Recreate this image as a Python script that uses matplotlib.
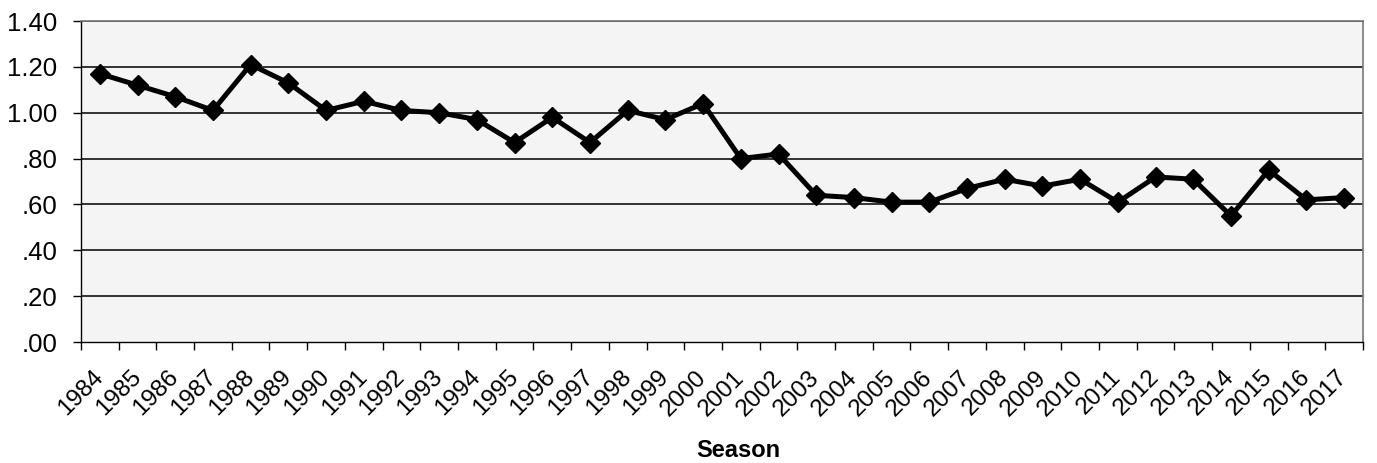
import matplotlib.pyplot as plt
from matplotlib.ticker import FixedLocator, FuncFormatter

plt.rcParams['font.family'] = ['Liberation Sans', 'DejaVu Sans']

seasons = [str(y) for y in range(1984, 2018)]
values = [1.17, 1.12, 1.07, 1.01, 1.21, 1.13, 1.01, 1.05, 1.01, 1.00,
          0.97, 0.87, 0.98, 0.87, 1.01, 0.97, 1.04, 0.80, 0.82, 0.64,
          0.63, 0.61, 0.61, 0.67, 0.71, 0.68, 0.71, 0.61, 0.72, 0.71,
          0.55, 0.75, 0.62, 0.63]
yticks = [0.0, 0.2, 0.4, 0.6, 0.8, 1.0, 1.2, 1.4]

fig = plt.figure(figsize=(13.77, 4.63), dpi=100)
ax = fig.add_axes([0.0588, 0.2613, 0.9310, 0.6933])
ax.set_facecolor('#f4f4f4')

x = list(range(len(seasons)))
ax.plot(x, values, color='black', linewidth=3.6, marker='D', markersize=10.5,
        zorder=3)

ax.set_xlim(-0.5, len(seasons) - 0.5)
ax.set_ylim(0, 1.4)

# y axis
ax.set_yticks(yticks)
ax.yaxis.set_major_formatter(FuncFormatter(
    lambda v, p: ('%.2f' % v) if v >= 1 else ('%.2f' % v)[1:]))
ax.tick_params(axis='y', labelsize=18.5, length=6, width=1, direction='out',
               pad=11)
for v in yticks[1:]:
    ax.axhline(v, color='#111111', linewidth=1.2, zorder=1)

# x axis: ticks between categories, labels at centers
ax.set_xticks(x)
ax.set_xticklabels(seasons, rotation=45, ha='right', va='center',
                   rotation_mode='anchor', fontsize=17.5)
ax.tick_params(axis='x', length=0, pad=23)
ax.xaxis.set_minor_locator(FixedLocator([i - 0.5 for i in range(len(seasons) + 1)]))
ax.tick_params(axis='x', which='minor', length=5.5, width=1, direction='out')

ax.set_xlabel('Season', fontsize=17, fontweight='bold')
ax.xaxis.set_label_coords(0.5125, -0.338)
ax.xaxis.label.set_va('center')

for s in ['left', 'bottom']:
    ax.spines[s].set_color('black')
    ax.spines[s].set_linewidth(1)
for s in ['top', 'right']:
    ax.spines[s].set_color('#777777')
    ax.spines[s].set_linewidth(1.2)

fig.savefig('out.png', dpi=100)
